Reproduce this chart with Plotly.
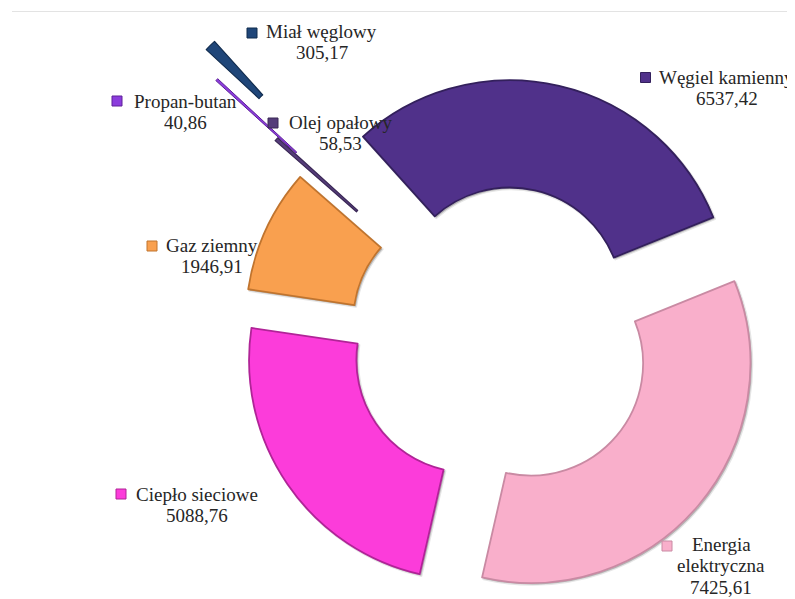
import plotly.graph_objects as go

# ---- data ----
categories = ["Węgiel kamienny", "Energia elektryczna", "Ciepło sieciowe", "Gaz ziemny",
              "Olej opałowy", "Propan-butan", "Miał węglowy"]
values = [6537.42, 7425.61, 5088.76, 1946.91, 58.53, 40.86, 305.17]
label_lines = [["Węgiel kamienny"], ["Energia", "elektryczna"], ["Ciepło sieciowe"], ["Gaz ziemny"],
               ["Olej opałowy"], ["Propan-butan"], ["Miał węglowy"]]
colors = ["#50318A", "#F9AFCB", "#FC3CDA", "#F9A04F", "#553C7A", "#8B3CDC", "#1F4679"]
edge_colors = ["#33205C", "#C98AA3", "#B02497", "#C0742E", "#3A2855", "#5E2199", "#0F2A4D"]

# page offset (browser body margin) and figure size
OFF = 8
W, H = 795 - OFF, 599 - OFF
R = 221.0
HOLE = 0.511
ROT = -42
FONT = "Liberation Serif, Times New Roman, serif"

def domain(cx, cy, half):
    cx, cy = cx - OFF, cy - OFF
    x0, x1 = (cx - half) / W, (cx + half) / W
    y0, y1 = 1 - (cy + half) / H, 1 - (cy - half) / H
    clamp = lambda v: min(1.0, max(0.0, v))
    return dict(x=[clamp(x0), clamp(x1)], y=[clamp(y0), clamp(y1)])

fig = go.Figure()

def add_pie(show_idx, pulls, cx, cy, r=R, hole=HOLE, fill=None, line_w=1.8, line_col=None):
    maxpull = max(pulls)
    fill = fill or colors
    line_col = line_col or edge_colors
    cols = [fill[i] if i in show_idx else "rgba(0,0,0,0)" for i in range(len(values))]
    lcols = [line_col[i] if i in show_idx else "rgba(0,0,0,0)" for i in range(len(values))]
    lw = [line_w if i in show_idx else 0 for i in range(len(values))]
    fig.add_trace(go.Pie(
        labels=categories, values=values, sort=False, direction="clockwise",
        rotation=ROT, hole=hole, pull=pulls, textinfo="none", hoverinfo="label+value",
        marker=dict(colors=cols, line=dict(color=lcols, width=lw)),
        domain=domain(cx, cy, r * (1 + maxpull)), showlegend=False,
    ))

big = [0, 1, 2, 3]
pull_big = [0.179, 0.179, 0.179, 0.179, 0, 0, 0]
shadow = ["rgba(0,0,0,0.22)"] * 7
# soft shadow of the main ring
add_pie(big, pull_big, 501 + 1.5, 338 + 1.5, r=219.5, fill=shadow, line_w=2.5,
        line_col=["rgba(0,0,0,0.10)"] * 7)
# main ring: four large slices slightly exploded
add_pie(big, pull_big, 501, 338, r=219.5)
# far-exploded thin slices (each drawn from its own displaced centre)
add_pie([4], [0] * 7, 441.4, 286.2, line_w=1.2)
add_pie([5], [0] * 7, 379.6, 229.01, line_w=1.0)
add_pie([6], [0] * 7, 301.5, 138.01, r=130, hole=0.446, line_w=1.2)

# ---- labels ----
name_pos = [(726.5, 77), (721, 544.5), (197, 494), (212, 245.5), (340, 122), (185, 101), (321.5, 31.5)]
key_pos = [(645.5, 77.5), (667, 546), (121, 494), (152, 246), (273, 123), (117, 101), (252, 33)]
LINE = 21.3
annotations = []
shapes = []
for i, v in enumerate(values):
    lines = label_lines[i] + [f"{v:.2f}".replace(".", ",")]
    x, y = name_pos[i]
    for k, t in enumerate(lines):
        annotations.append(dict(
            x=(x - OFF) / W, y=1 - (y - OFF + k * LINE) / H, xref="paper", yref="paper",
            text=t, showarrow=False, xanchor="center", yanchor="middle",
            font=dict(family=FONT, size=19, color="#262626"),
        ))
    kx, ky = key_pos[i]
    kx, ky = kx - OFF, ky - OFF
    shapes.append(dict(
        type="rect", xref="paper", yref="paper",
        x0=(kx - 5) / W, x1=(kx + 5) / W, y0=1 - (ky + 5) / H, y1=1 - (ky - 5) / H,
        fillcolor=colors[i], line=dict(color=edge_colors[i], width=1),
    ))

shapes.append(dict(type="line", xref="paper", yref="paper",
                   x0=(12 - OFF) / W, x1=1, y0=1 - (11.5 - OFF) / H, y1=1 - (11.5 - OFF) / H,
                   line=dict(color="#E3E3E3", width=1)))

fig.update_layout(
    width=W, height=H, margin=dict(l=0, r=0, t=0, b=0),
    paper_bgcolor="white", plot_bgcolor="white",
    annotations=annotations, shapes=shapes, showlegend=False,
)

fig.write_html("out.html")
